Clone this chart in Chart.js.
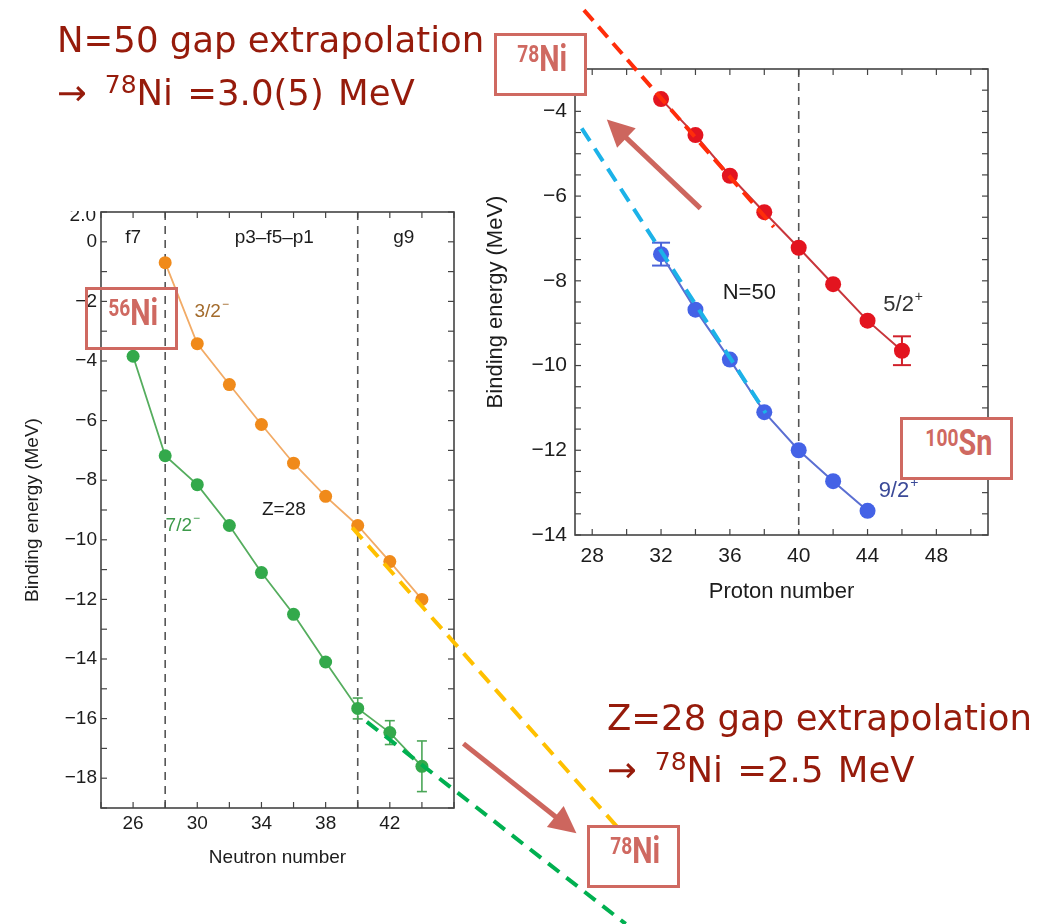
<!DOCTYPE html>
<html>
<head>
<meta charset="utf-8">
<title>Single-particle energies near Z=28 and N=50</title>
<script src="https://cdn.jsdelivr.net/npm/chart.js@4.4.1/dist/chart.umd.min.js"></script>
<style>
  html, body { margin: 0; padding: 0; background: #ffffff; }
  body { position: relative; width: 1049px; height: 924px; overflow: hidden; }
  canvas { position: absolute; display: block; }
  #chartN { left: 0; top: 180px; }
  #chartZ { left: 470px; top: 0; }
  .note { position: absolute; white-space: nowrap; color: #961b0b;
          font-family: "DejaVu Sans", sans-serif; font-size: 35.5px; line-height: 35px; }
  .note.second { word-spacing: 3px; }
  .note .iso { font-size: 25px; position: relative; top: -12px; margin-left: 18px; }
  .tag { position: absolute; box-sizing: border-box; border: 3px solid #cf6961;
         display: flex; align-items: center; justify-content: center;
         padding: 0 0 8px 4px; color: #cf6961;
         font-family: Roboto, "Liberation Sans", sans-serif; font-weight: 700; }
  .tag.opaque { background: #ffffff; }
  .tag .t { display: inline-block; transform: scaleX(0.8); font-size: 36px; line-height: 36px; white-space: nowrap; }
  .tag .m { font-size: 24px; position: relative; top: -9px; }
  .cut { position: absolute; left: 58px; top: 211px; width: 40px; height: 10px; overflow: hidden; }
  .cut span { position: absolute; right: 2px; top: -7px; line-height: 19px;
              font: 19px "Liberation Sans", Arial, sans-serif; color: #1c1c1c; }
</style>
</head>
<body>
<canvas id="chartN" width="700" height="744"></canvas>
<canvas id="chartZ" width="579" height="620"></canvas>

<div class="cut"><span>2.0</span></div>

<div class="note" style="left:57px;top:22px">N=50 gap extrapolation</div>
<div class="note second" style="left:57px;top:75px">→<span class="iso">78</span>Ni =3.0(5) MeV</div>
<div class="note" style="left:607px;top:700px">Z=28 gap extrapolation</div>
<div class="note second" style="left:607px;top:752px">→<span class="iso">78</span>Ni =2.5 MeV</div>

<div class="tag opaque" style="left:494px;top:33px;width:93px;height:63px"><span class="t"><span class="m">78</span>Ni</span></div>
<div class="tag" style="left:85px;top:287px;width:93px;height:63px"><span class="t"><span class="m">56</span>Ni</span></div>
<div class="tag opaque" style="left:900px;top:417px;width:113px;height:63px"><span class="t"><span class="m">100</span>Sn</span></div>
<div class="tag" style="left:587px;top:825px;width:93px;height:63px"><span class="t"><span class="m">78</span>Ni</span></div>

<script>
// Z = 28 chain: proton single-particle energies against neutron number
const neutronF72 = [26, 28, 30, 32, 34, 36, 38, 40, 42, 44];
const energyF72  = [-3.84, -7.18, -8.15, -9.52, -11.1, -12.5, -14.1, -15.66, -16.47, -17.6];
const errorF72   = [0, 0, 0, 0, 0, 0, 0, 0.35, 0.4, 0.85];
const neutronP32 = [28, 30, 32, 34, 36, 38, 40, 42, 44];
const energyP32  = [-0.7, -3.42, -4.79, -6.13, -7.43, -8.54, -9.52, -10.73, -12.0];

// N = 50 chain: neutron single-particle energies against proton number
const protonD52 = [32, 34, 36, 38, 40, 42, 44, 46];
const energyD52 = [-3.71, -4.56, -5.52, -6.38, -7.22, -8.08, -8.94, -9.65];
const errorD52  = [0, 0, 0, 0, 0, 0, 0, 0.34];
const protonG92 = [32, 34, 36, 38, 40, 42, 44];
const energyG92 = [-7.37, -8.68, -9.86, -11.1, -12.0, -12.73, -13.43];
const errorG92  = [0.27, 0, 0, 0, 0, 0, 0];

// straight-line extrapolations towards 78Ni
const extrapP32N = [39.66, 56.42];
const extrapP32E = [-9.59, -19.79];
const extrapF72N = [40.57, 56.7];
const extrapF72E = [-16.11, -22.89];
const extrapD52Z = [27.52, 38.55];
const extrapD52E = [-1.61, -6.73];
const extrapG92Z = [27.39, 38.08];
const extrapG92E = [-4.40, -11.12];

// direction arrows (tail, head)
const arrowNX = [46.59, 53.63];
const arrowNE = [-16.84, -19.85];
const arrowZX = [34.29, 28.85];
const arrowZE = [-6.29, -4.19];

// axis tick labels and shell closures
const tickLabelsN  = [26, 30, 34, 38, 42];
const tickLabelsEN = [-18, -16, -14, -12, -10, -8, -6, -4, -2, 0];
const tickLabelsZ  = [28, 32, 36, 40, 44, 48];
const tickLabelsEZ = [-14, -12, -10, -8, -6, -4];
const shellN = [28, 40];
const shellZ = [40];

const AXIS_FONT = "'Liberation Sans', Arial, Helvetica, sans-serif";
const INK = '#1c1c1c';

const pts = (xs, ys) => xs.map((v, i) => ({ x: v, y: ys[i] }));
const signed = v => (v < 0 ? '\u2212' + Math.abs(v) : String(v));

function seg(ctx, x0, y0, x1, y1) {
  ctx.beginPath(); ctx.moveTo(x0, y0); ctx.lineTo(x1, y1); ctx.stroke();
}

// frame, inward ticks, shell markers, error bars, arrows and in-plot labels
const decor = {
  id: 'decor',
  beforeDatasetsDraw(chart, args, o) {
    const { ctx, chartArea: a } = chart;
    const x = chart.scales.x, y = chart.scales.y;
    ctx.save();
    ctx.strokeStyle = '#555555'; ctx.lineWidth = 1.6; ctx.setLineDash([8, 6]);
    o.closures.forEach(v => { const px = x.getPixelForValue(v); seg(ctx, px, a.top, px, a.bottom); });
    ctx.setLineDash([]);

    ctx.strokeStyle = '#444444'; ctx.lineWidth = 1.6;
    ctx.strokeRect(a.left, a.top, a.right - a.left, a.bottom - a.top);
    ctx.lineWidth = 1.2;
    for (let v = Math.ceil(x.min / o.xStep) * o.xStep; v <= x.max + 1e-9; v += o.xStep) {
      const px = x.getPixelForValue(v);
      seg(ctx, px, a.bottom, px, a.bottom - o.len);
      seg(ctx, px, a.top, px, a.top + o.len);
    }
    for (let v = Math.ceil(y.min / o.yStep) * o.yStep; v <= y.max + 1e-9; v += o.yStep) {
      const py = y.getPixelForValue(v);
      seg(ctx, a.left, py, a.left + o.len, py);
      seg(ctx, a.right, py, a.right - o.len, py);
    }

    chart.data.datasets.forEach((ds, i) => {
      if (!ds.errors) return;
      const meta = chart.getDatasetMeta(i);
      ctx.strokeStyle = ds.errorColor; ctx.lineWidth = o.errWidth;
      ds.errors.forEach((e, j) => {
        if (!e) return;
        const px = meta.data[j].x, val = ds.data[j].y;
        const y1 = y.getPixelForValue(val + e), y2 = y.getPixelForValue(val - e);
        seg(ctx, px, y1, px, y2);
        seg(ctx, px - o.cap, y1, px + o.cap, y1);
        seg(ctx, px - o.cap, y2, px + o.cap, y2);
      });
    });
    ctx.restore();
  },
  afterDatasetsDraw(chart, args, o) {
    const { ctx } = chart;
    const x = chart.scales.x, y = chart.scales.y;
    ctx.save();
    o.arrows.forEach(ar => {
      const x0 = x.getPixelForValue(ar.x[0]), y0 = y.getPixelForValue(ar.y[0]);
      const x1 = x.getPixelForValue(ar.x[1]), y1 = y.getPixelForValue(ar.y[1]);
      const ang = Math.atan2(y1 - y0, x1 - x0), c = Math.cos(ang), s = Math.sin(ang);
      const hl = 27, hw = 13.5;
      const bx = x1 - hl * c, by = y1 - hl * s;
      ctx.strokeStyle = '#cd665e'; ctx.fillStyle = '#cd665e'; ctx.lineWidth = 5;
      seg(ctx, x0, y0, bx + 2 * c, by + 2 * s);
      ctx.beginPath();
      ctx.moveTo(x1, y1);
      ctx.lineTo(bx + hw * s, by - hw * c);
      ctx.lineTo(bx - hw * s, by + hw * c);
      ctx.closePath(); ctx.fill();
    });
    ctx.restore();
  },
  afterDraw(chart, args, o) {
    const { ctx } = chart;
    const x = chart.scales.x, y = chart.scales.y;
    ctx.save();
    ctx.textBaseline = 'middle'; ctx.textAlign = 'left';
    o.labels.forEach(l => {
      const size = l.size || o.size;
      ctx.font = `${size}px ${AXIS_FONT}`;
      const w1 = ctx.measureText(l.text).width;
      let w2 = 0;
      if (l.sup) { ctx.font = `${Math.round(size * 0.62)}px ${AXIS_FONT}`; w2 = ctx.measureText(l.sup).width + 1; }
      const cx = x.getPixelForValue(l.x), cy = y.getPixelForValue(l.y);
      const sx = cx - (w1 + w2) / 2;
      ctx.fillStyle = l.color || INK;
      ctx.font = `${size}px ${AXIS_FONT}`;
      ctx.fillText(l.text, sx, cy);
      if (l.sup) {
        ctx.font = `${Math.round(size * 0.62)}px ${AXIS_FONT}`;
        ctx.fillText(l.sup, sx + w1 + 1, cy - size * 0.36);
      }
    });
    ctx.restore();
  }
};

function axes(cfg) {
  return {
    x: {
      type: 'linear', min: cfg.xMin, max: cfg.xMax,
      grid: { display: false, drawTicks: false }, border: { display: false },
      afterBuildTicks: s => { s.ticks = cfg.xTicks.map(v => ({ value: v })); },
      afterFit: s => { s.height = cfg.xHeight; },
      ticks: { autoSkip: false, maxRotation: 0, padding: cfg.xPad, color: INK,
               font: { family: AXIS_FONT, size: cfg.tick }, callback: v => String(v) },
      title: { display: true, text: cfg.xTitle, color: INK,
               font: { family: AXIS_FONT, size: cfg.title }, padding: { top: 0, bottom: cfg.xTitlePad } }
    },
    y: {
      type: 'linear', min: cfg.yMin, max: cfg.yMax,
      grid: { display: false, drawTicks: false }, border: { display: false },
      afterBuildTicks: s => { s.ticks = cfg.yTicks.map(v => ({ value: v })); },
      afterFit: s => { s.width = cfg.yWidth; },
      ticks: { autoSkip: false, padding: cfg.yPad, color: INK,
               font: { family: AXIS_FONT, size: cfg.tick }, callback: v => signed(v) },
      title: { display: true, text: 'Binding energy (MeV)', color: INK,
               font: { family: AXIS_FONT, size: cfg.title }, padding: { top: cfg.yTitlePad, bottom: 0 } }
    }
  };
}

const common = { responsive: false, animation: false, events: [] };

new Chart(document.getElementById('chartN'), {
  type: 'line',
  data: {
    datasets: [
      { label: 'extrapolation 3/2-', data: pts(extrapP32N, extrapP32E), borderColor: '#ffc000',
        borderWidth: 4, borderDash: [15, 9], pointRadius: 0, clip: false, fill: false },
      { label: 'extrapolation 7/2-', data: pts(extrapF72N, extrapF72E), borderColor: '#00b050',
        borderWidth: 4, borderDash: [14, 9], pointRadius: 0, clip: false, fill: false },
      { label: '3/2-', data: pts(neutronP32, energyP32), borderColor: '#f2ab66', borderWidth: 1.8,
        pointRadius: 6.5, pointBorderWidth: 0, pointBackgroundColor: '#f08a1a', fill: false },
      { label: '7/2-', data: pts(neutronF72, energyF72), borderColor: '#55ad5e', borderWidth: 1.8,
        pointRadius: 6.5, pointBorderWidth: 0, pointBackgroundColor: '#33a94b', fill: false,
        errors: errorF72, errorColor: '#4aa657' }
    ]
  },
  options: {
    ...common,
    layout: { padding: { left: 0, top: 32, right: 246, bottom: 46 } },
    plugins: {
      legend: { display: false }, tooltip: { enabled: false },
      decor: {
        closures: shellN, xStep: 2, yStep: 1, len: 6, errWidth: 1.6, cap: 5, size: 19,
        arrows: [{ x: arrowNX, y: arrowNE }],
        labels: [
          { text: 'f7', x: 26, y: 0.15 },
          { text: 'p3\u2013f5\u2013p1', x: 34.8, y: 0.15 },
          { text: 'g9', x: 42.87, y: 0.15 },
          { text: '3/2', sup: '\u2212', x: 30.9, y: -2.34, color: '#a36b2c' },
          { text: '7/2', sup: '\u2212', x: 29.1, y: -9.53, color: '#3d9a4a' },
          { text: 'Z=28', x: 35.4, y: -9.0 }
        ]
      }
    },
    scales: axes({ xMin: 24, xMax: 46, yMin: -19, yMax: 1, xTicks: tickLabelsN, yTicks: tickLabelsEN,
                   xHeight: 70, yWidth: 101, xPad: 4, yPad: 4, tick: 19, title: 19,
                   xTitle: 'Neutron number', xTitlePad: 8.6, yTitlePad: 21.6 })
  },
  plugins: [decor]
});

new Chart(document.getElementById('chartZ'), {
  type: 'line',
  data: {
    datasets: [
      { label: 'extrapolation 5/2+', data: pts(extrapD52Z, extrapD52E), borderColor: '#ff2d0a',
        borderWidth: 4, borderDash: [14, 8], pointRadius: 0, clip: false, fill: false },
      { label: 'extrapolation 9/2+', data: pts(extrapG92Z, extrapG92E), borderColor: '#1cb2e8',
        borderWidth: 4, borderDash: [15, 9], pointRadius: 0, clip: false, fill: false },
      { label: '5/2+', data: pts(protonD52, energyD52), borderColor: '#c8363c', borderWidth: 2,
        pointRadius: 8, pointBorderWidth: 0, pointBackgroundColor: '#e3141f', fill: false,
        errors: errorD52, errorColor: '#d0202a' },
      { label: '9/2+', data: pts(protonG92, energyG92), borderColor: '#5b6fd2', borderWidth: 2,
        pointRadius: 8, pointBorderWidth: 0, pointBackgroundColor: '#4462e6', fill: false,
        errors: errorG92, errorColor: '#4a63d8' }
    ]
  },
  options: {
    ...common,
    layout: { padding: { left: 0, top: 69, right: 61, bottom: 5 } },
    plugins: {
      legend: { display: false }, tooltip: { enabled: false },
      decor: {
        closures: shellZ, xStep: 2, yStep: 0.5, len: 6, errWidth: 2, cap: 9, size: 22,
        arrows: [{ x: arrowZX, y: arrowZE }],
        labels: [
          { text: 'N=50', x: 37.13, y: -8.29 },
          { text: '5/2', sup: '+', x: 46.07, y: -8.57, color: '#333333' },
          { text: '9/2', sup: '+', x: 45.8, y: -12.97, color: '#3b4a98' }
        ]
      }
    },
    scales: axes({ xMin: 27, xMax: 51, yMin: -14, yMax: -3, xTicks: tickLabelsZ, yTicks: tickLabelsEZ,
                   xHeight: 80, yWidth: 105, xPad: 9, yPad: 8, tick: 21, title: 22,
                   xTitle: 'Proton number', xTitlePad: 9.8, yTitlePad: 12.8 })
  },
  plugins: [decor]
});
</script>
</body>
</html>
